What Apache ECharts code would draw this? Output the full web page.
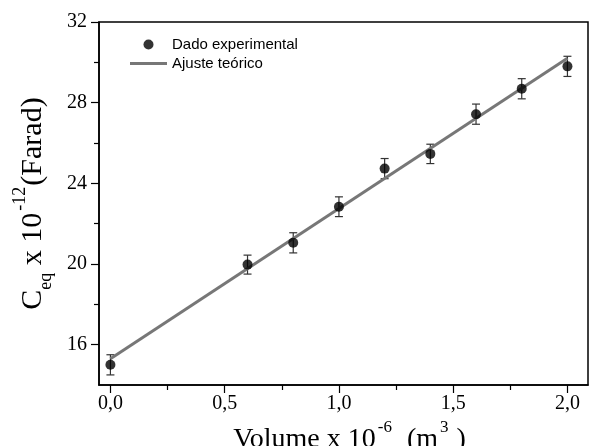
<!DOCTYPE html>
<html>
<head>
<meta charset="utf-8">
<script src="https://cdn.jsdelivr.net/npm/echarts@6/dist/echarts.min.js"></script>
<style>html,body{margin:0;padding:0;background:#fff}#c{width:590px;height:446px}</style>
</head>
<body>
<div id="c"></div>
<script>
const volume = [0.0, 0.6, 0.8, 1.0, 1.2, 1.4, 1.6, 1.8, 2.0];
const ceq = [15.0, 19.97, 21.05, 22.84, 24.73, 25.46, 27.43, 28.69, 29.8];
const ceqErr = [0.5, 0.47, 0.5, 0.49, 0.5, 0.48, 0.5, 0.5, 0.5];
const fitX = [0.0, 2.0];
const fitY = [15.3, 30.2];
const xMajor = [0.0, 0.5, 1.0, 1.5, 2.0];
const xMinor = [0.25, 0.75, 1.25, 1.75];
const yMajor = [16, 20, 24, 28, 32];
const yMinor = [18, 22, 26, 30];

const serif = 'Liberation Serif';
const sans = 'Liberation Sans';
const chart = echarts.init(document.getElementById('c'), null, {renderer: 'canvas'});
const fmtX = v => v.toFixed(1).replace('.', ',');

const scatterData = volume.map((x, i) => [x, ceq[i]]);
const errData = volume.map((x, i) => [x, ceq[i], ceqErr[i]]);
const fitData = fitX.map((x, i) => [x, fitY[i]]);

const nameRich = (size) => ({
  n: {fontSize: size, fontFamily: serif, color: '#000', lineHeight: size + 14, verticalAlign: 'middle'},
  sup: {fontSize: Math.round(size * 0.6), fontFamily: serif, color: '#000', lineHeight: Math.round(size * 0.6), verticalAlign: 'top', padding: [0, 1, 0, 2]},
  sub: {fontSize: Math.round(size * 0.6), fontFamily: serif, color: '#000', lineHeight: Math.round(size * 0.6), verticalAlign: 'bottom'}
});

chart.setOption({
  animation: false,
  backgroundColor: '#fff',
  grid: {left: 99, right: 2, top: 22, bottom: 61, show: true, borderColor: '#000', borderWidth: 1.5, backgroundColor: 'transparent', outerBoundsMode: 'none', containLabel: false},
  legend: {
    orient: 'vertical', left: 125, top: 32, itemWidth: 37, itemHeight: 10, itemGap: 4,
    textStyle: {fontFamily: sans, fontSize: 15, color: '#000'},
    data: [
      {name: 'Dado experimental', icon: 'circle'},
      {name: 'Ajuste teórico', icon: 'path://M0,0L37,0L37,3L0,3Z'}
    ]
  },
  xAxis: [{
    type: 'value', min: -0.05, max: 2.09,
    name: '{n|Volume x 10}{sup|-6}{n|  (m}{sup|3}{n| )}',
    nameLocation: 'middle', nameGap: 28,
    nameTextStyle: {rich: nameRich(28), padding: [0, 0, 0, 12]},
    axisLine: {show: true, onZero: false, lineStyle: {color: '#000', width: 1.5}},
    axisTick: {show: true, inside: false, length: 8, customValues: xMajor, lineStyle: {color: '#000', width: 1.2}},
    axisLabel: {customValues: xMajor, formatter: fmtX, fontFamily: serif, fontSize: 20, color: '#000', margin: 9},
    splitLine: {show: false}
  }, {
    type: 'value', min: -0.05, max: 2.09, position: 'bottom',
    axisLine: {show: false, onZero: false},
    axisTick: {show: true, inside: false, length: 5, customValues: xMinor, lineStyle: {color: '#000', width: 1.2}},
    axisLabel: {show: false},
    splitLine: {show: false}
  }],
  yAxis: [{
    type: 'value', min: 14, max: 32,
    name: '{n|C}{sub|eq}{n| x 10}{sup|-12}{n|(Farad)}',
    nameLocation: 'middle', nameGap: 44, nameRotate: 90,
    nameTextStyle: {rich: nameRich(30)},
    axisLine: {show: true, onZero: false, lineStyle: {color: '#000', width: 1.5}},
    axisTick: {show: true, inside: false, length: 8, customValues: yMajor, lineStyle: {color: '#000', width: 1.2}},
    axisLabel: {customValues: yMajor, fontFamily: serif, fontSize: 20, color: '#000', margin: 12},
    splitLine: {show: false}
  }, {
    type: 'value', min: 14, max: 32, position: 'left',
    axisLine: {show: false, onZero: false},
    axisTick: {show: true, inside: false, length: 5, customValues: yMinor, lineStyle: {color: '#000', width: 1.2}},
    axisLabel: {show: false},
    splitLine: {show: false}
  }],
  series: [{
    type: 'custom', name: 'err', xAxisIndex: 0, yAxisIndex: 0, z: 2,
    data: errData,
    renderItem: function (params, api) {
      const x = api.value(0), y = api.value(1), e = api.value(2);
      const top = api.coord([x, y + e]);
      const bot = api.coord([x, y - e]);
      const w = 4;
      const st = {stroke: '#333', lineWidth: 1.2};
      return {type: 'group', children: [
        {type: 'line', shape: {x1: top[0], y1: top[1], x2: bot[0], y2: bot[1]}, style: st},
        {type: 'line', shape: {x1: top[0] - w, y1: top[1], x2: top[0] + w, y2: top[1]}, style: st},
        {type: 'line', shape: {x1: bot[0] - w, y1: bot[1], x2: bot[0] + w, y2: bot[1]}, style: st}
      ]};
    }
  }, {
    type: 'line', name: 'Ajuste teórico', data: fitData, xAxisIndex: 0, yAxisIndex: 0, z: 3,
    showSymbol: false, symbol: 'none',
    lineStyle: {color: '#777', width: 3}, itemStyle: {color: '#777'}
  }, {
    type: 'scatter', name: 'Dado experimental', data: scatterData, xAxisIndex: 0, yAxisIndex: 0, z: 4,
    symbol: 'circle', symbolSize: 10, itemStyle: {color: '#000'}
  }]
});
</script>
</body>
</html>
